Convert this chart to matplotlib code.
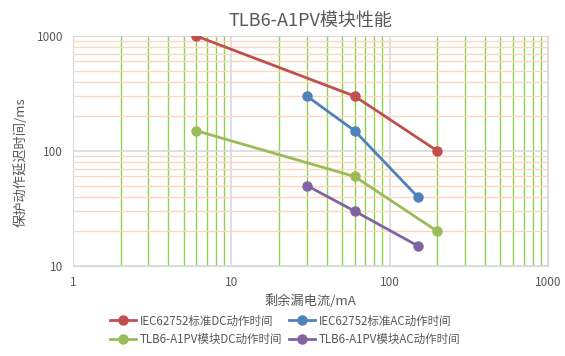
import matplotlib
matplotlib.use("Agg")
import matplotlib.pyplot as plt
from matplotlib.ticker import LogLocator, FixedLocator, NullFormatter

plt.rcParams['font.family'] = ['Noto Sans CJK SC', 'DejaVu Sans']

title = "TLB6-A1PV模块性能"
x_label = "剩余漏电流/mA"
y_label = "保护动作延迟时间/ms"

iec_dc_x = [6, 60, 200]
iec_dc_y = [1000, 300, 100]
iec_ac_x = [30, 60, 150]
iec_ac_y = [300, 150, 40]
tlb_dc_x = [6, 60, 200]
tlb_dc_y = [150, 60, 20]
tlb_ac_x = [30, 60, 150]
tlb_ac_y = [50, 30, 15]

series = [
    ("IEC62752标准DC动作时间", iec_dc_x, iec_dc_y, "#c0504d"),
    ("IEC62752标准AC动作时间", iec_ac_x, iec_ac_y, "#4f81bd"),
    ("TLB6-A1PV模块DC动作时间", tlb_dc_x, tlb_dc_y, "#9bbb59"),
    ("TLB6-A1PV模块AC动作时间", tlb_ac_x, tlb_ac_y, "#8064a2"),
]

fig = plt.figure(figsize=(5.65, 3.56), dpi=100)
ax = fig.add_axes([0.129, 0.253, 0.841, 0.646])

ax.set_xscale("log")
ax.set_yscale("log")
ax.set_xlim(1, 1000)
ax.set_ylim(10, 1000)

# grid: gray majors, green x minors, orange y minors
ax.xaxis.set_minor_locator(LogLocator(base=10, subs=range(2, 10)))
ax.yaxis.set_minor_locator(LogLocator(base=10, subs=range(2, 10)))
ax.xaxis.set_minor_formatter(NullFormatter())
ax.yaxis.set_minor_formatter(NullFormatter())
ax.xaxis.set_major_locator(FixedLocator([1, 10, 100, 1000]))
ax.yaxis.set_major_locator(FixedLocator([10, 100, 1000]))
ax.set_xticklabels(["1", "10", "100", "1000"])
ax.set_yticklabels(["10", "100", "1000"])

ax.grid(which="minor", axis="x", color="#92d050", linewidth=1.0, zorder=0)
ax.grid(which="minor", axis="y", color="#fad7bd", linewidth=1.0, zorder=0)
ax.grid(which="major", axis="both", color="#d9d9d9", linewidth=1.2, zorder=0)
ax.set_axisbelow(True)

handles = []
for lbl, xs, ys, c in series:
    h, = ax.plot(xs, ys, color=c, linewidth=2, marker="o", markersize=6.5, label=lbl, zorder=3)
    handles.append(h)

for sp in ax.spines.values():
    sp.set_color("#d9d9d9")
ax.tick_params(which="both", length=0, labelsize=8.5, colors="#595959", pad=7)

ax.set_title(title, fontsize=13, color="#595959", pad=7)
ax.set_xlabel(x_label, fontsize=9.5, color="#595959", labelpad=4)
ax.set_ylabel(y_label, fontsize=9.5, color="#595959", labelpad=6)
ax.yaxis.set_label_coords(-0.095, 0.45)

# row-wise legend order: matplotlib fills column by column
order = [0, 2, 1, 3]
fig.legend([handles[i] for i in order], [series[i][0] for i in order],
           loc="lower center", bbox_to_anchor=(0.505, 0.0), ncol=2, frameon=False,
           fontsize=8.3, labelcolor="#595959", handlelength=2.2,
           columnspacing=0.6, handletextpad=0.35, labelspacing=0.45)

fig.savefig("out.png", dpi=100)
